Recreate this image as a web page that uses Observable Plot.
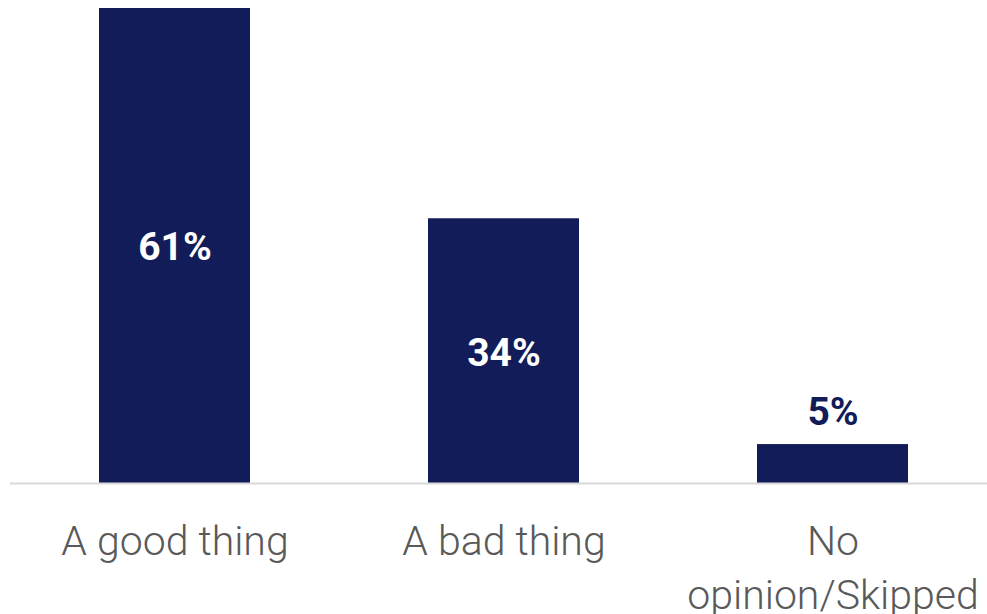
<!DOCTYPE html>
<html>
<head>
<meta charset="utf-8">
<script src="https://cdn.jsdelivr.net/npm/d3@7"></script>
<script src="https://cdn.jsdelivr.net/npm/@observablehq/plot@0.6"></script>
<style>
  html, body { margin: 0; padding: 0; background: #fff; }
  #chart svg { display: block; }
</style>
</head>
<body>
<div id="chart"></div>
<script>
const categories = ["A good thing", "A bad thing", "No opinion/Skipped"];
const tickLabels = ["A good thing", "A bad thing", "No\nopinion/Skipped"];
const values = [61, 34, 5];

const data = categories.map((c, i) => ({category: c, value: values[i], label: values[i] + "%"}));
const inside = data.filter(d => d.value > 10);
const outside = data.filter(d => d.value <= 10);
const navy = "#121c58";

const chart = Plot.plot({
  width: 987,
  height: 614,
  marginTop: 8,
  marginBottom: 131,
  marginLeft: 10,
  marginRight: 0,
  style: {fontFamily: "Roboto, sans-serif", background: "#fff"},
  x: {domain: categories, range: [-80.6, 1086.5], padding: 0.542, axis: null},
  y: {domain: [0, 61], range: [483, 8], axis: null},
  marks: [
    Plot.barY(data, {x: "category", y: "value", fill: navy}),
    Plot.ruleY([0], {stroke: "#d9d9d9", strokeWidth: 2}),
    Plot.axisX({
      label: null,
      tickSize: 0,
      tickPadding: 34,
      fontSize: 41,
      fontWeight: 300,
      lineHeight: 1.3,
      fill: "#595959",
      tickFormat: d => tickLabels[categories.indexOf(d)]
    }),
    Plot.text(inside, {x: "category", y: d => d.value / 2, text: "label", fill: "#fff", fontSize: 39, fontWeight: 700, dy: 2}),
    Plot.text(outside, {x: "category", y: "value", text: "label", fill: navy, fontSize: 39, fontWeight: 700, lineAnchor: "bottom", dy: -20})
  ]
});
document.getElementById("chart").append(chart);
</script>
</body>
</html>
